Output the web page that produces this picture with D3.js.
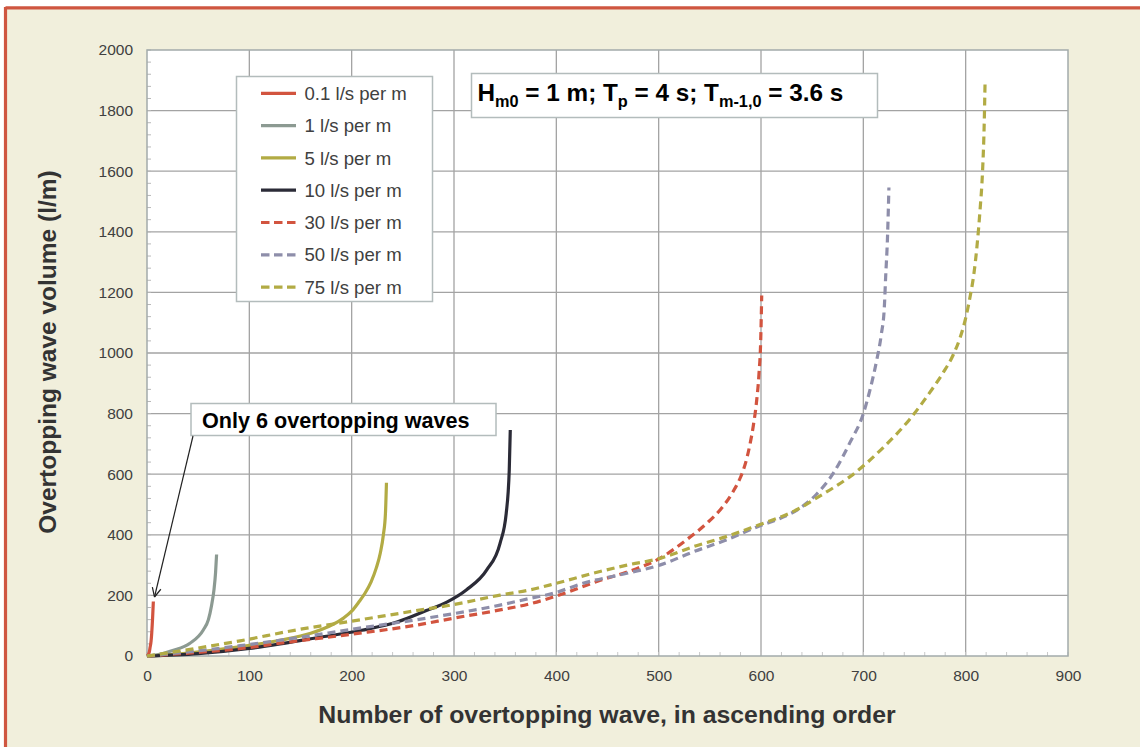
<!DOCTYPE html>
<html><head><meta charset="utf-8">
<script src="https://cdn.jsdelivr.net/npm/d3@7/dist/d3.min.js"></script>
<style>
html,body{margin:0;padding:0;background:#fff;}
svg{display:block;font-family:"Liberation Sans",Arial,sans-serif;}
</style></head>
<body>
<svg id="c" width="1140" height="747"></svg>
<script>
const xTicks = [0,100,200,300,400,500,600,700,800,900];
const yTicks = [0,200,400,600,800,1000,1200,1400,1600,1800,2000];
const seriesNames = ["0.1 l/s per m","1 l/s per m","5 l/s per m","10 l/s per m","30 l/s per m","50 l/s per m","75 l/s per m"];
const q01 = [[0,0],[2,10],[3,28],[4,50],[4.6,75],[5.5,128],[6.2,180]];
const q1 = [[0,0],[10,4],[25,18],[42,42],[55,86],[60,120],[63,165],[65.5,220],[67,275],[68,335]];
const q5 = [[0,0],[40,10],[90,30],[130,52],[160,75],[178,98],[192,125],[200,148],[207,178],[213,207],[219,245],[224,290],[228,340],[231,400],[233,470],[234,572]];
const q10 = [[0,0],[50,8],[100,25],[130,40],[160,57],[210,85],[245,113],[273,150],[293,178],[312,218],[332,284],[345,372],[351,470],[354,614],[355,746]];
const q30 = [[0,0],[50,12],[100,28],[130,42],[200,72],[260,100],[300,125],[345,152],[374,172],[400,198],[443,250],[475,284],[501,322],[527,383],[547,438],[562,490],[574,550],[580,590],[585,638],[589,695],[592.5,760],[595.5,835],[598,930],[599.7,1040],[600.7,1190]];
const q50 = [[0,0],[42,14],[91,34],[146,60],[200,88],[260,118],[300,140],[345,168],[374,190],[397,207],[426,240],[469,273],[501,300],[534,344],[566,383],[599,430],[620,456],[638,488],[654,533],[671,605],[687,705],[700,800],[707,885],[713,975],[717.5,1060],[720.5,1150],[721.8,1250],[723.6,1380],[725,1546]];
const q75 = [[0,0],[42,22],[91,50],[146,86],[200,115],[260,148],[300,170],[345,201],[374,218],[400,240],[436,273],[469,300],[501,322],[534,361],[566,394],[599,434],[620,460],[638,488],[654,521],[671,556],[687,592],[720,690],[745,780],[765,870],[778,935],[788,995],[795,1055],[800,1115],[804,1180],[808,1260],[811,1350],[814,1470],[816.5,1600],[818,1740],[819,1901]];
const seriesData = [q01,q1,q5,q10,q30,q50,q75];

const colors = ["#d2543f","#8c9a92","#b2ab44","#2b2b37","#d2543f","#8e8eaa","#b2ab44"];
const dashed = [false,false,false,false,true,true,true];

const svg = d3.select("#c");
// frame
svg.append("rect").attr("x",5).attr("y",7).attr("width",1135).attr("height",740).attr("fill","#f1efdc");
svg.append("line").attr("x1",5.5).attr("x2",1140).attr("y1",7.8).attr("y2",7.8).attr("stroke","#cf5640").attr("stroke-width",3.2);
svg.append("line").attr("x1",5.5).attr("x2",5.5).attr("y1",7).attr("y2",747).attr("stroke","#cf5640").attr("stroke-width",3.2);

const L=147, R=1068, T=50, B=656;
const x = d3.scaleLinear().domain([0,900]).range([L,R]);
const y = d3.scaleLinear().domain([0,2000]).range([B,T]);

svg.append("rect").attr("x",L).attr("y",T).attr("width",R-L).attr("height",B-T).attr("fill","#fff");

// grid
const g = svg.append("g");
g.selectAll(".gx").data(xTicks.slice(1,-1)).enter().append("line")
  .attr("x1",d=>x(d)).attr("x2",d=>x(d)).attr("y1",T).attr("y2",B)
  .attr("stroke","#a3a3a3").attr("stroke-width",1.3);
g.selectAll(".gy").data(yTicks.slice(1,-1)).enter().append("line")
  .attr("x1",L).attr("x2",R).attr("y1",d=>y(d)).attr("y2",d=>y(d))
  .attr("stroke","#a3a3a3").attr("stroke-width",1.3);

// minor ticks
const yMinor = d3.range(0,2001,40);
g.selectAll(".my").data(yMinor).enter().append("line")
  .attr("x1",L).attr("x2",L+4).attr("y1",d=>y(d)).attr("y2",d=>y(d)).attr("stroke","#b8b8b8").attr("stroke-width",1);
const xMinor = d3.range(0,901,20);
g.selectAll(".mx").data(xMinor).enter().append("line")
  .attr("x1",d=>x(d)).attr("x2",d=>x(d)).attr("y1",B).attr("y2",B-4).attr("stroke","#c8c8c8").attr("stroke-width",1);

// plot border
svg.append("rect").attr("x",L).attr("y",T).attr("width",R-L).attr("height",B-T)
  .attr("fill","none").attr("stroke","#a2abab").attr("stroke-width",1.5);

// axes labels via d3 axes
const fmt = d3.format("d");
const xAxis = d3.axisBottom(x).tickValues(xTicks).tickFormat(fmt).tickSize(0).tickPadding(0);
const ya = d3.axisLeft(y).tickValues(yTicks).tickFormat(fmt).tickSize(0).tickPadding(14);
const gxA = svg.append("g").attr("transform",`translate(0,${B})`).call(xAxis);
const gyA = svg.append("g").attr("transform",`translate(${L},0)`).call(ya);
[gxA,gyA].forEach(a=>{
  a.select(".domain").remove();
  a.selectAll("text").attr("font-family","'Liberation Sans',Arial,sans-serif").attr("font-size",15.5).attr("fill","#404040");
});
gxA.selectAll("text").attr("dy",null).attr("y",24.5);

// series
const line = d3.line().x(d=>x(d[0])).y(d=>y(d[1])).curve(d3.curveMonotoneX);
const sg = svg.append("g");
seriesData.forEach((s,i)=>{
  sg.append("path").datum(s).attr("d",line).attr("fill","none")
    .attr("stroke",colors[i]).attr("stroke-width",3.2)
    .attr("stroke-dasharray",dashed[i]?"8,5":null)
    .attr("stroke-linejoin","round");
});

// legend
const lg = svg.append("g");
lg.append("rect").attr("x",236.5).attr("y",76.5).attr("width",196).attr("height",225)
  .attr("fill","#fff").attr("stroke","#b3bcbc").attr("stroke-width",1.5);
seriesNames.forEach((n,i)=>{
  const yy = 93.3 + i*32.3;
  lg.append("line").attr("x1",261).attr("x2",296).attr("y1",yy).attr("y2",yy)
    .attr("stroke",colors[i]).attr("stroke-width",3.2).attr("stroke-dasharray",dashed[i]?"8.5,4.5":null);
  lg.append("text").attr("x",304.5).attr("y",yy+6.6).text(n)
    .attr("font-size",18.6).attr("fill","#404040");
});

// parameter box
const pb = svg.append("g");
pb.append("rect").attr("x",471.5).attr("y",73.5).attr("width",406).attr("height",44)
  .attr("fill","#fff").attr("stroke","#b3bcbc").attr("stroke-width",1.5);
const pt = pb.append("text").attr("x",477.5).attr("y",100.5).attr("font-size",24.3).attr("font-weight","bold").attr("fill","#000");
const parts = [["H",0],["m0",1],[" = 1 m; T",0],["p",1],[" = 4 s; T",0],["m-1,0",1],[" = 3.6 s",0]];
parts.forEach((p,i)=>{
  const t = pt.append("tspan").text(p[0]);
  if(p[1]){ t.attr("font-size",16.3).attr("dy",6.5); }
  else if(i>0){ t.attr("dy",-6.5); }
});

// annotation box
const ab = svg.append("g");
ab.append("rect").attr("x",191).attr("y",403.5).attr("width",305).attr("height",32)
  .attr("fill","#fff").attr("stroke","#b3bcbc").attr("stroke-width",1.5);
ab.append("text").attr("x",202).attr("y",427.5).text("Only 6 overtopping waves")
  .attr("font-size",21.6).attr("font-weight","bold").attr("fill","#000");
// arrow
const ax1=193, ay1=436, ax2=154.5, ay2=597;
ab.append("line").attr("x1",ax1).attr("y1",ay1).attr("x2",ax2).attr("y2",ay2).attr("stroke","#222").attr("stroke-width",1.2);
const ang = Math.atan2(ay2-ay1, ax2-ax1);
[0.45,-0.45].forEach(da=>{
  ab.append("line").attr("x1",ax2).attr("y1",ay2)
    .attr("x2",ax2-10*Math.cos(ang+da)).attr("y2",ay2-10*Math.sin(ang+da))
    .attr("stroke","#222").attr("stroke-width",1.2);
});

// axis titles
svg.append("text").attr("x",607).attr("y",723).attr("text-anchor","middle")
  .attr("font-size",24.8).attr("font-weight","bold").attr("fill","#333")
  .text("Number of overtopping wave, in ascending order");
svg.append("text").attr("transform","translate(56,352) rotate(-90)").attr("text-anchor","middle")
  .attr("font-size",24.5).attr("font-weight","bold").attr("fill","#333")
  .text("Overtopping wave volume (l/m)");
</script>
</body></html>
